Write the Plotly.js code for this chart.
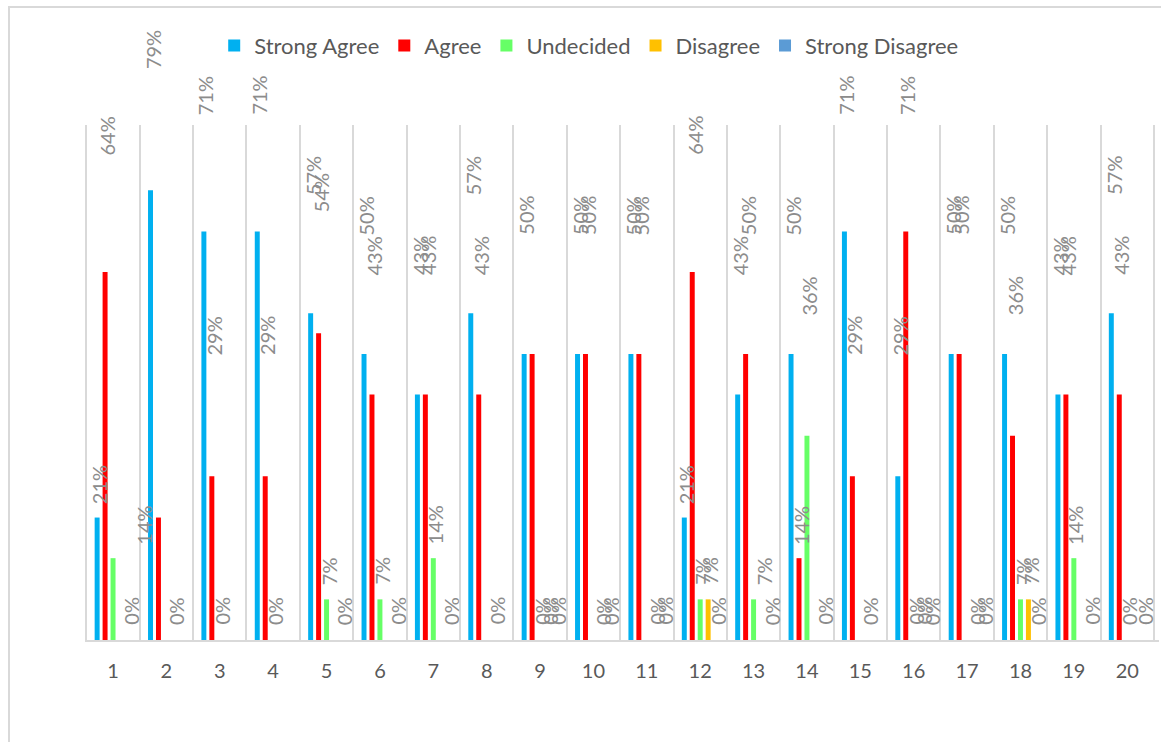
<!DOCTYPE html>
<html>
<head>
<meta charset="utf-8">
<script src="https://cdn.plot.ly/plotly-3.0.1.min.js"></script>
<style>
  html, body { margin: 0; padding: 0; background: #fff; overflow: hidden; }
  #frame { position: absolute; left: 8px; top: 6px; width: 2000px; height: 2000px;
           border: 2px solid #d9d9d9; pointer-events: none; }
  #chart { position: absolute; left: 0; top: 0; width: 1161px; height: 742px; }
</style>
</head>
<body>
<div id="frame"></div>
<div id="chart"></div>
<script>
// ---- data (percent) ----
const categories = ['1','2','3','4','5','6','7','8','9','10','11','12','13','14','15','16','17','18','19','20'];
const seriesNames = ['Strong Agree', 'Agree', 'Undecided', 'Disagree', 'Strong Disagree'];
const strongAgree    = [21.4, 78.6, 71.4, 71.4, 57.1, 50.0, 42.9, 57.1, 50.0, 50.0, 50.0, 21.4, 42.9, 50.0, 71.4, 28.6, 50.0, 50.0, 42.9, 57.1];
const agree          = [64.3, 21.4, 28.6, 28.6, 53.6, 42.9, 42.9, 42.9, 50.0, 50.0, 50.0, 64.3, 50.0, 14.3, 28.6, 71.4, 50.0, 35.7, 42.9, 42.9];
const undecided      = [14.3, 0, 0, 0, 7.1, 7.1, 14.3, 0, 0, 0, 0, 7.1, 7.1, 35.7, 0, 0, 0, 7.1, 14.3, 0];
const disagree       = [0, 0, 0, 0, 0, 0, 0, 0, 0, 0, 0, 7.1, 0, 0, 0, 0, 0, 7.1, 0, 0];
const strongDisagree = [0, 0, 0, 0, 0, 0, 0, 0, 0, 0, 0, 0, 0, 0, 0, 0, 0, 0, 0, 0];

// data labels as shown in the picture, by label slot (null = no label shown)
const labelsLeadIn         = [null, 14, null, null, null, null, null, null, null, null, null, null, null, null, null, null, null, null, null, null];
const labelsStrongAgree    = [21, 79, 71, 71, 57, 50, 43, 57, 50, 50, 50, 21, 43, 50, 71, 29, 50, 50, 43, 57];
const labelsAgree          = [64, null, 29, 29, 54, 43, 43, 43, null, 50, 50, 64, 50, 14, 29, 71, 50, 36, 43, 43];
const labelsUndecided      = [null, null, 0, 0, 7, 7, 14, null, 0, null, null, 7, null, 36, null, 0, null, 7, 14, 0];
const labelsDisagree       = [null, 0, null, null, null, null, null, 0, 0, 0, 0, 7, 7, null, 0, 0, 0, 7, null, null];
const labelsStrongDisagree = [0, null, null, null, 0, 0, 0, null, 0, 0, 0, 0, 0, 0, null, 0, 0, 0, 0, 0];

// ---- styles ----
const colors = ['#00B0F0', '#FF0000', '#66FF66', '#FFC000', '#5B9BD5'];
const values = [strongAgree, agree, undecided, disagree, strongDisagree];
// label rows with their slot index (-1 = just before the group)
const labelRows = [
  [labelsLeadIn, -1], [labelsStrongAgree, 0], [labelsAgree, 1],
  [labelsUndecided, 2], [labelsDisagree, 3], [labelsStrongDisagree, 4]
];

const BARGAP = 0.255, GROUPGAP = 0.375;
const slot = (1 - BARGAP) / seriesNames.length;
const FONT = 'Lato, "Open Sans", sans-serif';
const YMAX = 90;

const traces = seriesNames.map((name, s) => ({
  type: 'bar', name: name, x: categories, y: values[s],
  marker: { color: colors[s], line: { width: 0 } },
  hoverinfo: 'skip'
}));

const annotations = [];
labelRows.forEach(([arr, s]) => {
  arr.forEach((v, i) => {
    if (v === null) return;
    annotations.push({
      xref: 'x', yref: 'paper',
      x: i + (s - 2) * slot + 0.035,
      y: (v + 2.3 + (v > 25 ? 18.1 : 0)) / YMAX,
      text: v + '%', textangle: -90,
      xanchor: 'center', yanchor: 'bottom',
      showarrow: false,
      font: { family: FONT, size: 20, color: '#8c8c8c' }
    });
  });
});

const layout = {
  width: 1161, height: 742,
  margin: { l: 85, r: 2, t: 125, b: 102 },
  paper_bgcolor: 'rgba(0,0,0,0)', plot_bgcolor: 'rgba(0,0,0,0)',
  barmode: 'group', bargap: BARGAP, bargroupgap: GROUPGAP,
  font: { family: FONT, color: '#595959' },
  xaxis: {
    type: 'category', tickson: 'boundaries',
    showgrid: true, gridcolor: '#d9d9d9', gridwidth: 2,
    showline: true, linecolor: '#d9d9d9', linewidth: 2,
    ticks: '', ticklabelstandoff: 12,
    tickfont: { family: FONT, size: 20, color: '#595959' },
    fixedrange: true
  },
  yaxis: {
    range: [0, YMAX], visible: false, showgrid: false, zeroline: false, fixedrange: true
  },
  showlegend: true,
  legend: {
    orientation: 'h', x: 0.469, xanchor: 'center', y: 1.154, yanchor: 'middle',
    font: { family: FONT, size: 22, color: '#595959' },
    itemclick: false, itemdoubleclick: false, traceorder: 'normal'
  },
  annotations: annotations
};

Plotly.newPlot('chart', traces, layout, { displayModeBar: false, staticPlot: true });
</script>
</body>
</html>
